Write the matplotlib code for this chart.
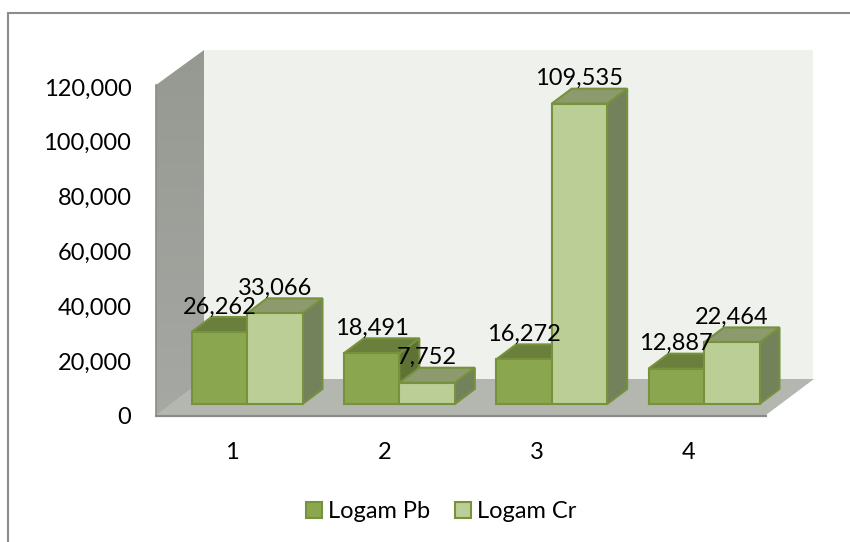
import numpy as np
import matplotlib
matplotlib.use("Agg")
import matplotlib.pyplot as plt
from matplotlib.patches import Polygon, Patch
from matplotlib.transforms import Affine2D

categories = [1, 2, 3, 4]
series_names = ["Logam Pb", "Logam Cr"]
logam_pb = [26262, 18491, 16272, 12887]
logam_cr = [33066, 7752, 109535, 22464]
pb_labels = ["26,262", "18,491", "16,272", "12,887"]
cr_labels = ["33,066", "7,752", "109,535", "22,464"]
y_ticks = [0, 20000, 40000, 60000, 80000, 100000, 120000]
y_tick_labels = ["0", "20,000", "40,000", "60,000", "80,000", "100,000", "120,000"]

plt.rcParams["font.family"] = ["Lato", "DejaVu Sans"]
FS = 17
W, H = 850, 542
fig = plt.figure(figsize=(W / 100, H / 100), dpi=100, facecolor="white")

# Chrome layer in pixel coordinates
bg = fig.add_axes([0, 0, 1, 1], zorder=0)
bg.set_xlim(0, W)
bg.set_ylim(H, 0)
bg.axis("off")
bg.plot([8, 8, W], [H, 13, 13], color="#8c8c8c", lw=1.5, solid_joinstyle="miter")
bg.add_patch(Polygon([(204, 50), (813, 50), (813, 379), (204, 379)], fc="#eff1ec", ec="none"))
wall = Polygon([(156, 85), (204, 50), (204, 379), (156, 416)], fc="none", ec="none")
bg.add_patch(wall)
grad = np.linspace(0, 1, 64)[:, None]
im = bg.imshow(grad, extent=(156, 204, 416, 50), aspect="auto", origin="upper",
               cmap=matplotlib.colors.LinearSegmentedColormap.from_list("w", ["#969892", "#a6a8a3"]))
im.set_clip_path(wall)
bg.set_xlim(0, W)
bg.set_ylim(H, 0)
bg.plot([156, 156], [85, 416], color="#8a8c86", lw=1.2)
bg.add_patch(Polygon([(156, 415), (204, 379), (814, 379), (766, 415)], fc="#b4b6b0", ec="none"))
bg.plot([156, 766], [415.5, 415.5], color="#8a8a8a", lw=1.6)

# Data axes: value 0 sits on the axis line, bars are lifted onto the floor
ax = fig.add_axes([155 / W, 1 - 416 / H, (766 - 155) / W, (416 - 87) / H], zorder=1)
ax.set_xlim(0.396, 4.407)
ax.set_ylim(0, 120000)
ax.patch.set_visible(False)
for s in ax.spines.values():
    s.set_visible(False)
ax.set_yticks(y_ticks, y_tick_labels, fontsize=FS)
ax.set_xticks(categories, [str(c) for c in categories], fontsize=FS)
ax.tick_params(length=0)
ax.tick_params(axis="y", pad=17)
ax.tick_params(axis="x", pad=18.5)
for lab in ax.get_xticklabels():
    lab.set_transform(lab.get_transform() + Affine2D().translate(-15, 0))

lift = ax.transData + Affine2D().translate(0, 12)
BAR_W = 55.5 / 152.33
DX = 20 / 152.33
DY = 15 / 329 * 120000
EDGE = "#76923c"


def box(x0, x1, v, front, top, side, z):
    kw = dict(transform=lift, ec=EDGE, lw=1.5, joinstyle="miter", clip_on=False, zorder=z)
    ax.add_patch(Polygon([(x1, 0), (x1 + DX, DY), (x1 + DX, v + DY), (x1, v)], fc=side, **kw))
    ax.add_patch(Polygon([(x0, v), (x0 + DX, v + DY), (x1 + DX, v + DY), (x1, v)], fc=top, **kw))
    ax.add_patch(Polygon([(x0, 0), (x1, 0), (x1, v), (x0, v)], fc=front, **kw))


label_shift = lift + Affine2D().translate(0, 25)
for c, pb, cr, pl, cl in zip(categories, logam_pb, logam_cr, pb_labels, cr_labels):
    box(c - BAR_W, c, pb, "#8aa64f", "#6a7f3c", "#5f7235", 3)
    box(c, c + BAR_W, cr, "#bbce96", "#8c9a6e", "#74825c", 4)
    ax.text(c - BAR_W / 2, pb, pl, transform=label_shift, ha="center", va="center",
            fontsize=FS, color="black", zorder=6, clip_on=False)
    ax.text(c + BAR_W / 2, cr, cl, transform=label_shift, ha="center", va="center",
            fontsize=FS, color="black", zorder=6, clip_on=False)

handles = [Patch(fc="#8aa64f", ec=EDGE, lw=1.5, label=series_names[0]),
           Patch(fc="#bbce96", ec=EDGE, lw=1.5, label=series_names[1])]
fig.legend(handles=handles, loc="center", bbox_to_anchor=(441 / W, 1 - 512 / H), ncol=2,
           frameon=False, fontsize=FS, handlelength=0.68, handleheight=0.68,
           handletextpad=0.25, columnspacing=1.05, borderpad=0)

fig.savefig("out.png", dpi=100, facecolor="white")
